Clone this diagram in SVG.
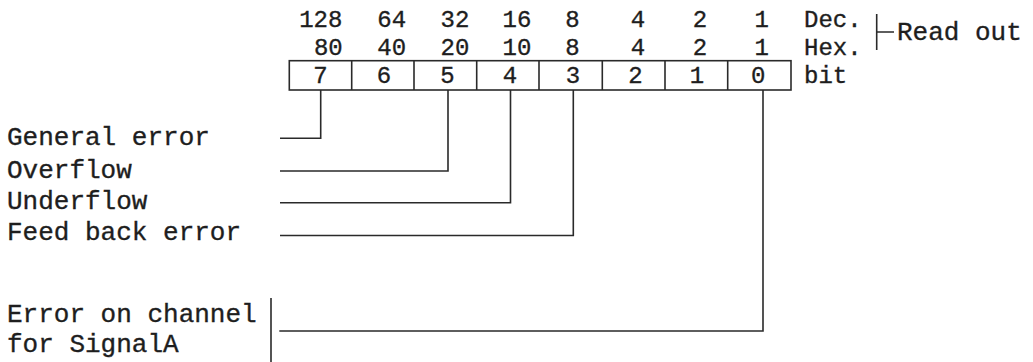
<svg xmlns="http://www.w3.org/2000/svg" width="1033" height="362" viewBox="0 0 1033 362">
<style>
text{font-family:"Liberation Mono","Courier New",monospace;font-size:26px;fill:#1e1e1e;stroke:#1e1e1e;stroke-width:0.35}
.n{font-size:24px}
.c{text-anchor:middle}
.ln{fill:none;stroke:#2a2a2a;stroke-width:1.6}
</style>
<rect width="1033" height="362" fill="#ffffff"/>
<g id="dec-row">
<text class="c n" x="320.8" y="26.5">128</text>
<text class="c n" x="391.7" y="26.5">64</text>
<text class="c n" x="455" y="26.5">32</text>
<text class="c n" x="517" y="26.5">16</text>
<text class="c n" x="572.5" y="26.5">8</text>
<text class="c n" x="638" y="26.5">4</text>
<text class="c n" x="700" y="26.5">2</text>
<text class="c n" x="761.7" y="26.5">1</text>
<text class="n" x="804" y="26.5">Dec.</text>
</g>
<g id="hex-row">
<text class="c n" x="328.3" y="54.5">80</text>
<text class="c n" x="391.7" y="54.5">40</text>
<text class="c n" x="455" y="54.5">20</text>
<text class="c n" x="517" y="54.5">10</text>
<text class="c n" x="572.5" y="54.5">8</text>
<text class="c n" x="638" y="54.5">4</text>
<text class="c n" x="700" y="54.5">2</text>
<text class="c n" x="761.7" y="54.5">1</text>
<text class="n" x="804" y="54.5">Hex.</text>
</g>
<g id="read-out">
<path class="ln" d="M876.7 14V50M876.7 32H894"/>
<text x="897" y="40">Read out</text>
</g>
<g id="bit-register">
<rect class="ln" x="289.3" y="60.7" width="501.7" height="29.3"/>
<path class="ln" d="M351.7 60.7V90M414 60.7V90M476.7 60.7V90M539 60.7V90M602.3 60.7V90M665 60.7V90M727.7 60.7V90"/>
<text class="c n" x="320.5" y="82.5">7</text>
<text class="c n" x="384" y="82.5">6</text>
<text class="c n" x="447.5" y="82.5">5</text>
<text class="c n" x="510" y="82.5">4</text>
<text class="c n" x="573" y="82.5">3</text>
<text class="c n" x="635.5" y="82.5">2</text>
<text class="c n" x="697" y="82.5">1</text>
<text class="c n" x="758.3" y="82.5">0</text>
<text class="n" x="804" y="83">bit</text>
</g>
<g id="label-general-error"><text x="7" y="145">General error</text></g>
<g id="label-overflow"><text x="7" y="177.5">Overflow</text></g>
<g id="label-underflow"><text x="7" y="208.5">Underflow</text></g>
<g id="label-feed-back-error"><text x="7" y="240">Feed back error</text></g>
<g id="label-error-on-channel">
<text x="7" y="321.5">Error on channel</text>
<text x="7" y="352">for SignalA</text>
<path class="ln" d="M271 298V362"/>
</g>
<g id="connectors">
<path class="ln" d="M320.7 90V138.3H280"/>
<path class="ln" d="M448 90V171H280"/>
<path class="ln" d="M510.5 90V202.7H280"/>
<path class="ln" d="M573.3 90V235.5H280"/>
<path class="ln" d="M763 90V331H279.3"/>
</g>
</svg>
